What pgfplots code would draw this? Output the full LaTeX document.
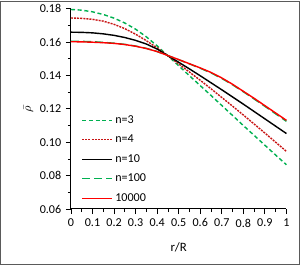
\documentclass[border=0pt]{standalone}
\usepackage{fontspec}
\setmainfont{Carlito}
\usepackage{pgfplots}
\pgfplotsset{compat=1.18}
\definecolor{xlgreen}{RGB}{0,176,80}
\definecolor{xldred}{RGB}{200,20,20}
\definecolor{xlred}{RGB}{255,0,0}
\definecolor{framegray}{RGB}{90,90,90}
\begin{document}
\begin{tikzpicture}
\begin{axis}[
  name=ax,
  scale only axis, width=160.5pt, height=149.25pt,
  xmin=0, xmax=1, ymin=0.06, ymax=0.18,
  axis x line=bottom, axis y line=left,
  axis line style={-, line width=0.75pt, black},
  xtick={0,0.1,0.2,0.3,0.4,0.5,0.6,0.7,0.8,0.9,1},
  xticklabels={0,0.1,0.2,0.3,0.4,0.5,0.6,0.7,0.8,0.9,1},
  ytick={0.06,0.08,0.10,0.12,0.14,0.16,0.18},
  yticklabels={0.06,0.08,0.10,0.12,0.14,0.16,0.18},
  minor x tick num=1, minor y tick num=1,
  tick align=outside, major tick length=3.75pt, minor tick length=2.25pt,
  tick style={black, line width=0.6pt},
  ticklabel style={font=\fontsize{9}{10}\selectfont},
  /pgf/number format/assume math mode=true,
  xlabel={r/R}, xlabel style={font=\fontsize{9.5}{10}\selectfont, yshift=-5pt},
  ylabel={$\bar{\rho}$}, ylabel style={font=\fontsize{9.5}{10}\selectfont, yshift=-2pt},
  legend style={draw=none, fill=none, at={(0.03,0.495)}, anchor=north west,
    font=\fontsize{9}{10}\selectfont, row sep=3.2pt},
  legend cell align=left,
  legend image post style={xscale=1.3, line width=0.8pt},
  clip=false,
]
\addplot[xlgreen, line width=1.05pt, dash pattern=on 3pt off 2pt] coordinates {
(0,0.1795) (0.05,0.1791) (0.1,0.1781) (0.15,0.1765) (0.2,0.1743) (0.25,0.1714)
(0.3,0.1677) (0.35,0.1631) (0.4,0.1577) (0.45,0.1517) (0.5,0.1458) (0.55,0.1398)
(0.6,0.1339) (0.65,0.1280) (0.7,0.1220) (0.75,0.1160) (0.8,0.1100) (0.85,0.1041)
(0.9,0.0982) (0.95,0.0923) (1,0.0865)};
\addlegendentry{n=3}
\addplot[xldred, line width=1.05pt, dash pattern=on 1.5pt off 0.8pt] coordinates {
(0,0.1744) (0.05,0.1742) (0.1,0.1736) (0.15,0.1725) (0.2,0.1706) (0.25,0.1680)
(0.3,0.1647) (0.35,0.1608) (0.4,0.1565) (0.45,0.1517) (0.5,0.1469) (0.55,0.1420)
(0.6,0.1371) (0.65,0.1320) (0.7,0.1268) (0.75,0.1216) (0.8,0.1163) (0.85,0.1109)
(0.9,0.1055) (0.95,0.1000) (1,0.0945)};
\addlegendentry{n=4}
\addplot[black, line width=1.05pt] coordinates {
(0,0.1659) (0.05,0.1658) (0.1,0.1655) (0.15,0.1649) (0.2,0.1640) (0.25,0.1627)
(0.3,0.1610) (0.35,0.1588) (0.4,0.1558) (0.45,0.1518) (0.5,0.1479) (0.55,0.1439)
(0.6,0.1398) (0.65,0.1356) (0.7,0.1314) (0.75,0.1271) (0.8,0.1228) (0.85,0.1184)
(0.9,0.1140) (0.95,0.1096) (1,0.1052)};
\addlegendentry{n=10}
\addplot[xlgreen, line width=1.05pt, dash pattern=on 6pt off 3pt] coordinates {
(0,0.1605) (0.05,0.1604) (0.1,0.1602) (0.15,0.1598) (0.2,0.1593) (0.25,0.1586)
(0.3,0.1576) (0.35,0.1562) (0.4,0.1543) (0.45,0.1519) (0.5,0.1494) (0.55,0.1469)
(0.6,0.1443) (0.65,0.1415) (0.7,0.1382) (0.75,0.1344) (0.8,0.1302) (0.85,0.1259)
(0.9,0.1215) (0.95,0.1170) (1,0.1125)};
\addlegendentry{n=100}
\addplot[xlred, line width=1.05pt] coordinates {
(0,0.1602) (0.05,0.1601) (0.1,0.1599) (0.15,0.1596) (0.2,0.1592) (0.25,0.1585)
(0.3,0.1575) (0.35,0.1561) (0.4,0.1543) (0.45,0.1519) (0.5,0.1495) (0.55,0.1470)
(0.6,0.1445) (0.65,0.1418) (0.7,0.1385) (0.75,0.1347) (0.8,0.1305) (0.85,0.1263)
(0.9,0.1219) (0.95,0.1175) (1,0.1131)};
\addlegendentry{10000}
\end{axis}
\draw[framegray, line width=0.75pt] ([xshift=-52.5pt,yshift=-41.25pt]ax.south west) rectangle ([xshift=9.75pt,yshift=5.25pt]ax.north east);
\end{tikzpicture}
\end{document}
